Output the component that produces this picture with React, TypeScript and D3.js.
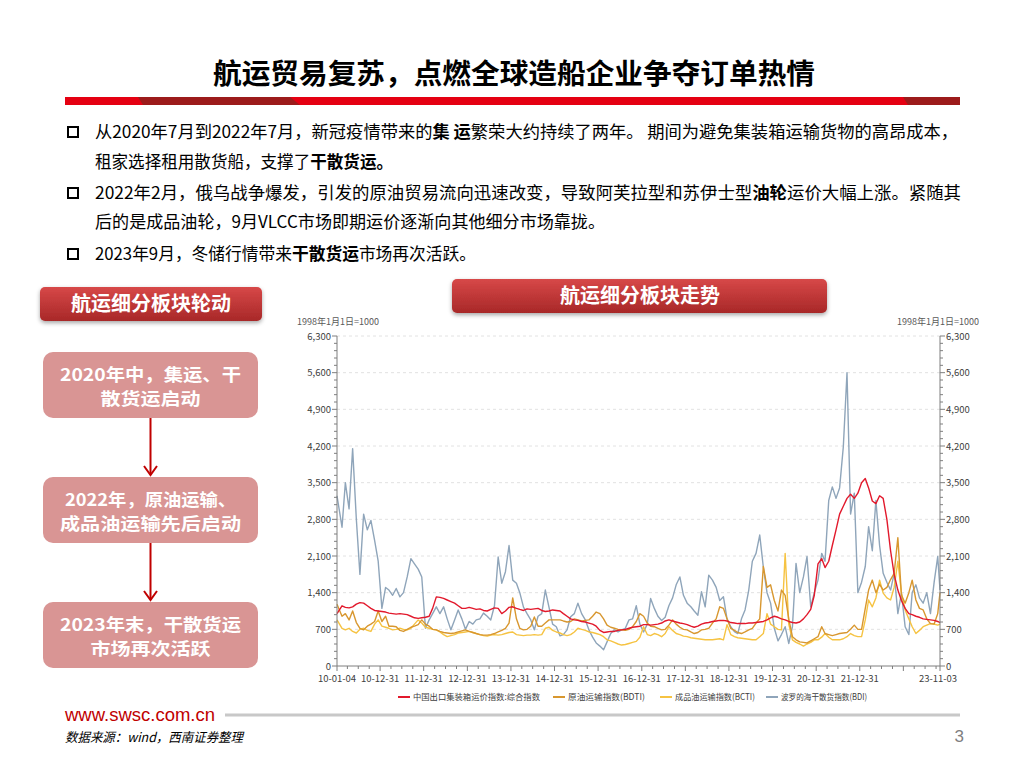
import React from 'react';
import * as d3 from 'd3';

// monthly readings, Jan 2010 .. Nov 2023 (167 points)
const ccfi = [
  1000, 1150, 1120, 1110, 1130, 1180, 1210, 1200, 1150, 1100, 1060, 1050,
  1040, 1030, 1010, 1000, 990, 1000, 990, 980, 950, 920, 910, 920,
  930, 950, 1100, 1320, 1310, 1290, 1260, 1230, 1200, 1150, 1100, 1100,
  1120, 1100, 1080, 1090, 1060, 1050, 1080, 1110, 1100, 1000, 1050, 1120,
  1130, 1100, 1080, 1060, 1090, 1080, 1090, 1100, 1060, 1040, 1050, 1070,
  1060, 1050, 1000, 950, 900, 880, 870, 850, 840, 820, 800, 760,
  680, 640, 650, 660, 660, 680, 690, 700, 720, 740, 750, 760,
  790, 790, 780, 790, 800, 820, 860, 880, 860, 840, 820, 810,
  790, 760, 740, 760, 800, 820, 830, 850, 860, 870, 870, 860,
  830, 820, 810, 810, 810, 820, 820, 830, 840, 850, 880, 920,
  950, 930, 900, 880, 850, 830, 820, 840, 900, 980, 1080, 1350,
  1950, 2050, 1880, 2000, 2300, 2600, 2900, 3050, 3200, 3280, 3200, 3300,
  3500, 3580, 3400, 3150, 3100, 3250, 3200, 2800, 2200, 1750, 1450, 1250,
  1100, 1000, 980, 950, 930, 900, 890, 880, 870, 850, 830,
];

const bdti = [
  1180, 950, 1000, 880, 1050, 830, 720, 690, 760, 800, 850, 1050,
  850, 950, 760, 760, 750, 680, 660, 700, 740, 760, 790, 880,
  800, 760, 700, 690, 660, 640, 630, 620, 630, 650, 670, 690,
  660, 640, 620, 600, 590, 590, 600, 620, 650, 680, 720, 820,
  1300, 900, 720, 690, 700, 760, 935, 760, 760, 820, 880, 880,
  880, 880, 860, 840, 850, 900, 880, 860, 870, 880, 950, 1030,
  1000, 900, 780, 740, 720, 700, 690, 680, 700, 750, 850, 1000,
  950, 820, 760, 750, 720, 690, 700, 780, 880, 800, 740, 700,
  690, 650, 620, 640, 690, 700, 720, 820, 900, 1130, 1100, 900,
  720, 680, 640, 620, 650, 690, 720, 820, 900, 1900, 1500, 1550,
  1250, 1050, 1450, 1350, 900, 560, 500, 460, 450, 440, 480, 520,
  560, 750, 620, 600, 580, 600, 620, 630, 640, 700, 780, 700,
  700, 1100, 1450, 1640, 1400, 1560, 1450, 1500, 1650, 1770, 2450, 1350,
  1200, 1400, 1640, 1260, 1100, 1070, 900, 810, 800, 1000, 1400,
];

const bcti = [
  880, 720, 690, 720, 660, 630, 700, 720, 680, 660, 800, 880,
  760, 740, 720, 690, 700, 720, 700, 690, 720, 800, 880, 820,
  740, 720, 700, 690, 650, 600, 560, 580, 600, 630, 640, 650,
  660, 640, 620, 600, 580, 570, 590, 600, 590, 600, 620, 640,
  650, 600, 590, 580, 590, 590, 600, 590, 600, 720, 740, 680,
  650, 630, 600, 580, 600, 650, 720, 700, 680, 650, 640, 620,
  600, 560, 500, 480, 450, 420, 400, 410, 430, 450, 470, 550,
  750, 600, 580, 620, 600, 560, 620, 750, 680, 620, 600, 570,
  560, 540, 530, 520, 510, 500, 500, 500, 510, 520, 500, 790,
  600, 560, 540, 530, 520, 510, 500, 500, 560, 620, 1000, 800,
  750, 700, 690, 2150, 800, 500, 450, 420, 380, 420, 450, 500,
  500, 550, 620, 550, 500, 500, 500, 520, 560, 620, 580, 560,
  560, 880, 1260, 1130, 1300, 1640, 1390, 1300, 1260, 1500, 2000, 1390,
  1070, 900, 750, 620, 680, 750, 780, 810, 800, 780, 800,
];

const bdi = [
  3250, 2650, 3500, 3000, 4150, 2800, 1750, 2900, 2600, 2780, 2400, 2000,
  1100, 1500, 1450, 1350, 1480, 1320, 1400, 1700, 2050, 1950, 1850, 1700,
  720, 880, 1000, 1130, 1000, 1130, 900, 690, 880, 1070, 900, 700,
  850, 800, 880, 900, 1010, 950, 880, 1150, 2080, 1580, 1800, 2300,
  1640, 1580, 1400, 1125, 1000, 880, 690, 950, 1000, 1450, 1120, 800,
  750, 575, 600, 690, 940, 1000, 1200, 1000, 880, 690, 550, 440,
  380, 310, 460, 620, 690, 650, 690, 720, 880, 900, 1150, 800,
  650, 800, 1290, 1100, 950, 870, 930, 1150, 1300, 1550, 1700, 1350,
  1200, 1130, 1050, 970, 1420, 1130, 1735, 1640, 1500, 1250, 1320, 900,
  750, 655, 620, 900, 1070, 1450, 2000, 2150, 2500, 1890, 1400, 1200,
  720, 480, 600, 750, 430, 750, 1960, 1400, 1700, 2090, 1130, 1400,
  1640, 2150, 2000, 3160, 3420, 3200, 3400, 4180, 5600, 2900, 3300, 1400,
  1600, 1900, 2660, 2200, 3160, 2300, 1770, 1600, 1450, 1770, 1000, 1390,
  750, 600, 1400, 1550, 1300, 1200, 1400, 1000, 1600, 2090, 1450,
];

const seriesNames = ['中国出口集装箱运价指数:综合指数', '原油运输指数(BDTI)', '成品油运输指数(BCTI)', '波罗的海干散货指数(BDI)'];
const seriesColors = ['#e2192c', '#d8972f', '#f6c342', '#8fa5ba'];

const xTickDates = [
  '2010-01-04', '2010-12-31', '2011-12-31', '2012-12-31', '2013-12-31', '2014-12-31', '2015-12-31',
  '2016-12-31', '2017-12-31', '2018-12-31', '2019-12-31', '2020-12-31', '2021-12-31', '2022-12-31', '2023-11-03',
];
const xTickLabels = [
  '10-01-04', '10-12-31', '11-12-31', '12-12-31', '13-12-31', '14-12-31', '15-12-31',
  '16-12-31', '17-12-31', '18-12-31', '19-12-31', '20-12-31', '21-12-31', '', '23-11-03',
];
const yTicks = [0, 700, 1400, 2100, 2800, 3500, 4200, 4900, 5600, 6300];

const flowSteps = [
  ['2020年中，集运、干', '散货运启动'],
  ['2022年，原油运输、', '成品油运输先后启动'],
  ['2023年末，干散货运', '市场再次活跃'],
];

const CJK = "'Noto Sans CJK SC', 'Noto Sans', sans-serif";
const START = new Date(2010, 0, 4);
const END = new Date(2023, 10, 3);

export default function App() {
  const plot = { left: 337, right: 940, top: 336, bottom: 666 };
  const n = ccfi.length;
  const dates = ccfi.map((_, i) => (i === 0 ? START : i === n - 1 ? END : new Date(2010, i, 15)));

  const x = d3.scaleTime().domain([START, END]).range([plot.left, plot.right]);
  const y = d3.scaleLinear().domain([0, 6300]).range([plot.bottom, plot.top]);
  const line = d3.line<number>().x((_, i) => x(dates[i])).y(d => y(d));

  const parse = d3.timeParse('%Y-%m-%d');
  const majorX = xTickDates.map(s => parse(s) as Date);
  const minorX = d3.timeMonth.every(3)!.range(new Date(2010, 3, 1), END).filter(d => d.getMonth() !== 0);
  const minorY = d3.range(140, 6300, 140).filter(v => v % 700 !== 0);
  const fmt = d3.format(',');

  // draw order: BDI below, CCFI on top
  const drawOrder = [3, 2, 1, 0];
  const data = [ccfi, bdti, bcti, bdi];

  const legendX = [398, 553, 660, 766];
  const legendW = [127, 77, 80, 86];

  const boxTop = [352, 477, 602];
  const boxLineW = [[181, 100], [171, 181], [181, 120]];

  return (
    <div style={{ position: 'absolute', left: 0, top: 0, width: 1024, height: 768, background: '#fff' }}>
      <svg width={1024} height={768} style={{ display: 'block' }}>
        <defs>
          <linearGradient id="hdr" x1="0" y1="0" x2="0" y2="1">
            <stop offset="0" stopColor="#d74848" />
            <stop offset="1" stopColor="#a82828" />
          </linearGradient>
          <filter id="shadow" x="-10%" y="-30%" width="120%" height="180%">
            <feDropShadow dx="0" dy="2" stdDeviation="2" floodColor="#000" floodOpacity="0.35" />
          </filter>
        </defs>

        {/* title */}
        <text x={514} y={84} textAnchor="middle" fontFamily={CJK} fontWeight="bold" fontSize={28}
          textLength={602} lengthAdjust="spacingAndGlyphs" fill="#000">
          航运贸易复苏，点燃全球造船企业争夺订单热情
        </text>
        <rect x={65} y={97} width={895} height={8} fill="#e50012" />
        <polygon points="138,97 290,97 300,105 143,105" fill="#9c1b1b" />
        <polygon points="903,97 960,97 960,105 908,105" fill="#9c1b1b" />

        {/* bullets */}
        <g fontFamily={CJK} fontSize={17} fill="#000">
          {[127, 188, 249].map(by => (
            <rect key={by} x={68} y={by} width={10} height={10} fill="none" stroke="#000" strokeWidth={2} />
          ))}
          <text x={95} y={138} textLength={863} lengthAdjust="spacingAndGlyphs">
            从2020年7月到2022年7月，新冠疫情带来的<tspan fontWeight="bold">集 运</tspan>繁荣大约持续了两年。 期间为避免集装箱运输货物的高昂成本，
          </text>
          <text x={95} y={168} textLength={298} lengthAdjust="spacingAndGlyphs">
            租家选择租用散货船，支撑了<tspan fontWeight="bold">干散货运。</tspan>
          </text>
          <text x={95} y={199} textLength={866} lengthAdjust="spacingAndGlyphs">
            2022年2月，俄乌战争爆发，引发的原油贸易流向迅速改变，导致阿芙拉型和苏伊士型<tspan fontWeight="bold">油轮</tspan>运价大幅上涨。紧随其
          </text>
          <text x={95} y={228} textLength={510} lengthAdjust="spacingAndGlyphs">
            后的是成品油轮，9月VLCC市场即期运价逐渐向其他细分市场靠拢。
          </text>
          <text x={95} y={260} textLength={381} lengthAdjust="spacingAndGlyphs">
            2023年9月，冬储行情带来<tspan fontWeight="bold">干散货运</tspan>市场再次活跃。
          </text>
        </g>

        {/* left panel */}
        <rect x={40} y={287} width={222} height={34} rx={5} fill="url(#hdr)" filter="url(#shadow)" />
        <text x={151} y={311} textAnchor="middle" fontFamily={CJK} fontWeight="bold" fontSize={20} fill="#fff">
          航运细分板块轮动
        </text>
        {flowSteps.map((lines, i) => (
          <g key={i}>
            <rect x={43} y={boxTop[i]} width={215} height={66} rx={10} fill="#d99594" />
            {lines.map((t, j) => (
              <text key={j} x={150.5} y={boxTop[i] + 29 + j * 24} textAnchor="middle" fontFamily={CJK}
                fontWeight="bold" fontSize={17.5} fill="#fff" textLength={boxLineW[i][j]} lengthAdjust="spacingAndGlyphs">
                {t}
              </text>
            ))}
            {i < flowSteps.length - 1 && (
              <g stroke="#c00000" strokeWidth={2} fill="none">
                <line x1={150.5} y1={boxTop[i] + 66} x2={150.5} y2={boxTop[i + 1] - 2} />
                <polyline points={`144,${boxTop[i + 1] - 11} 150.5,${boxTop[i + 1] - 2} 157,${boxTop[i + 1] - 11}`} />
              </g>
            )}
          </g>
        ))}

        {/* right panel header */}
        <rect x={452} y={279} width={375} height={34} rx={5} fill="url(#hdr)" filter="url(#shadow)" />
        <text x={640} y={303} textAnchor="middle" fontFamily={CJK} fontWeight="bold" fontSize={20} fill="#fff">
          航运细分板块走势
        </text>

        {/* chart */}
        <g fontFamily={CJK} fontSize={9.5} fill="#404040">
          {yTicks.filter(v => v > 0).map(v => (
            <line key={v} x1={plot.left} x2={plot.right} y1={y(v)} y2={y(v)} stroke="#dadada" strokeDasharray="3,3" strokeWidth={0.8} />
          ))}
          <text x={297} y={325} fill="#595959" fontSize={9}>1998年1月1日=1000</text>
          <text x={979} y={325} fill="#595959" fontSize={9} textAnchor="end">1998年1月1日=1000</text>

          {drawOrder.map(k => (
            <path key={k} d={line(data[k]) || ''} fill="none" stroke={seriesColors[k]} strokeWidth={1.4} strokeLinejoin="round" />
          ))}

          <g stroke="#7f7f7f" strokeWidth={1}>
            <line x1={plot.left} x2={plot.left} y1={plot.top} y2={plot.bottom} />
            <line x1={plot.right} x2={plot.right} y1={plot.top} y2={plot.bottom} />
            <line x1={plot.left} x2={plot.right} y1={plot.bottom} y2={plot.bottom} />
            {yTicks.map(v => (
              <g key={v}>
                <line x1={plot.left - 5} x2={plot.left} y1={y(v)} y2={y(v)} />
                <line x1={plot.right} x2={plot.right + 5} y1={y(v)} y2={y(v)} />
              </g>
            ))}
            {minorY.map(v => (
              <g key={v}>
                <line x1={plot.left - 3} x2={plot.left} y1={y(v)} y2={y(v)} />
                <line x1={plot.right} x2={plot.right + 3} y1={y(v)} y2={y(v)} />
              </g>
            ))}
            {majorX.map((d, i) => (
              <line key={i} x1={x(d)} x2={x(d)} y1={plot.bottom} y2={plot.bottom + 5} />
            ))}
            {minorX.map((d, i) => (
              <line key={i} x1={x(d)} x2={x(d)} y1={plot.bottom} y2={plot.bottom + 3} />
            ))}
          </g>

          {yTicks.map(v => (
            <g key={v}>
              <text x={plot.left - 6} y={y(v) + 3.5} textAnchor="end">{fmt(v)}</text>
              <text x={plot.right + 6} y={y(v) + 3.5}>{fmt(v)}</text>
            </g>
          ))}
          {majorX.map((d, i) => (
            <text key={i} x={x(d) + (i === majorX.length - 1 ? -2 : 0)} y={plot.bottom + 16} textAnchor="middle">
              {xTickLabels[i]}
            </text>
          ))}

          {seriesNames.map((name, k) => (
            <g key={k}>
              <line x1={legendX[k]} x2={legendX[k] + 12} y1={697} y2={697} stroke={seriesColors[k]} strokeWidth={2} />
              <text x={legendX[k] + 15} y={700} fontSize={8.5} textLength={legendW[k]} lengthAdjust="spacingAndGlyphs">
                {name}
              </text>
            </g>
          ))}
        </g>

        {/* footer */}
        <text x={65} y={721} fontFamily="'Liberation Sans', Arial, sans-serif" fontSize={18} fill="#c00000"
          textLength={150} lengthAdjust="spacingAndGlyphs">
          www.swsc.com.cn
        </text>
        <line x1={225} x2={960} y1={715} y2={715} stroke="#c8c8c8" strokeWidth={3} />
        <text x={65} y={742} fontFamily={CJK} fontStyle="italic" fontSize={13} fill="#000"
          textLength={178} lengthAdjust="spacingAndGlyphs">
          数据来源：wind，西南证券整理
        </text>
        <text x={964} y={742} fontFamily="'Liberation Sans', sans-serif" fontSize={17} fill="#7f7f7f" textAnchor="end">3</text>
      </svg>
    </div>
  );
}
